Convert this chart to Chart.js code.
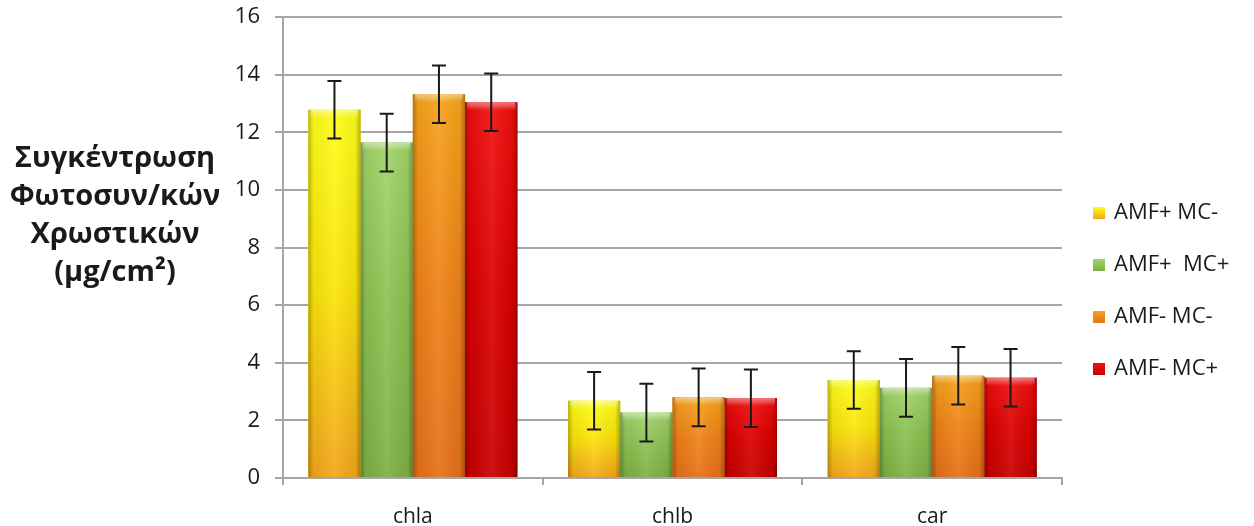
<!DOCTYPE html>
<html>
<head>
<meta charset="utf-8">
<script src="https://cdn.jsdelivr.net/npm/chart.js@4"></script>
<style>
  body { margin: 0; background: #fff; }
</style>
</head>
<body>
<canvas id="pigmentChart" width="1254" height="526"></canvas>
<script>
// dữ liệu
const categories = ["chla", "chlb", "car"];
const seriesNames = ["AMF+ MC-", "AMF+  MC+", "AMF- MC-", "AMF- MC+"];
const amfPlusMcMinus = [12.78, 2.68, 3.4];
const amfPlusMcPlus = [11.64, 2.27, 3.13];
const amfMinusMcMinus = [13.32, 2.8, 3.55];
const amfMinusMcPlus = [13.04, 2.77, 3.48];
const errAmfPlusMcMinus = [1, 1, 1];
const errAmfPlusMcPlus = [1, 1, 1];
const errAmfMinusMcMinus = [1, 1, 1];
const errAmfMinusMcPlus = [1, 1, 1];
const yTicks = [0, 2, 4, 6, 8, 10, 12, 14, 16];
const yTitle = ["Συγκέντρωση", "Φωτοσυν/κών", "Χρωστικών", "(μg/cm²)"];

const seriesValues = [amfPlusMcMinus, amfPlusMcPlus, amfMinusMcMinus, amfMinusMcPlus];
const seriesErrors = [errAmfPlusMcMinus, errAmfPlusMcPlus, errAmfMinusMcMinus, errAmfMinusMcPlus];

// màu: [đỉnh, giữa, đáy]
const shades = [
  ["#ffff1a", "#fbe40a", "#f3a61c"],
  ["#a3d46a", "#8cc152", "#7fb044"],
  ["#f7a41a", "#f08218", "#e6701a"],
  ["#f21010", "#dc0000", "#c80000"],
];

const FONT = "'Open Sans', 'Noto Sans', sans-serif";

// vẽ lại cột với gradient, thanh sai số, chú thích và tiêu đề trục
const decorPlugin = {
  id: "decor",
  afterDatasetsDraw(chart) {
    const ctx = chart.ctx;
    const yScale = chart.scales.y;
    ctx.save();
    chart.data.datasets.forEach((ds, i) => {
      const meta = chart.getDatasetMeta(i);
      meta.data.forEach((bar, j) => {
        const p = bar.getProps(["x", "y", "base", "width"], true);
        const left = p.x - p.width / 2;
        const h = p.base - p.y;
        const g = ctx.createLinearGradient(0, p.y, 0, p.base);
        g.addColorStop(0, shades[i][0]);
        g.addColorStop(0.5, shades[i][1]);
        g.addColorStop(1, shades[i][2]);
        ctx.fillStyle = g;
        ctx.fillRect(left, p.y, p.width, h);
        // bóng hai bên
        const hg = ctx.createLinearGradient(left, 0, left + p.width, 0);
        hg.addColorStop(0, "rgba(0,0,0,0.28)");
        hg.addColorStop(0.1, "rgba(0,0,0,0.05)");
        hg.addColorStop(0.5, "rgba(255,255,255,0.08)");
        hg.addColorStop(0.9, "rgba(0,0,0,0.05)");
        hg.addColorStop(1, "rgba(0,0,0,0.3)");
        ctx.fillStyle = hg;
        ctx.fillRect(left, p.y, p.width, h);
        // viền sáng phía trên
        const tg = ctx.createLinearGradient(0, p.y, 0, p.y + 8);
        tg.addColorStop(0, "rgba(255,255,255,0.45)");
        tg.addColorStop(1, "rgba(255,255,255,0)");
        ctx.fillStyle = tg;
        ctx.fillRect(left + 2, p.y, p.width - 4, 8);

        // thanh sai số
        const v = ds.data[j];
        const e = seriesErrors[i][j];
        const yTop = yScale.getPixelForValue(v + e);
        const yBot = yScale.getPixelForValue(v - e);
        ctx.strokeStyle = "#1a1a1a";
        ctx.lineWidth = 2;
        ctx.beginPath();
        ctx.moveTo(p.x, yTop);
        ctx.lineTo(p.x, yBot);
        ctx.moveTo(p.x - 7, yTop);
        ctx.lineTo(p.x + 7, yTop);
        ctx.moveTo(p.x - 7, yBot);
        ctx.lineTo(p.x + 7, yBot);
        ctx.stroke();
      });
    });
    ctx.restore();
  },
  afterDraw(chart) {
    const ctx = chart.ctx;
    ctx.save();
    // chú thích
    ctx.font = "22px " + FONT;
    ctx.textBaseline = "middle";
    ctx.textAlign = "left";
    seriesNames.forEach((name, i) => {
      const cy = 213 + i * 52;
      const g = ctx.createLinearGradient(0, cy - 6, 0, cy + 6);
      g.addColorStop(0, shades[i][0]);
      g.addColorStop(1, shades[i][2]);
      ctx.fillStyle = g;
      ctx.fillRect(1093, cy - 6, 12, 12);
      ctx.fillStyle = "#1a1a1a";
      ctx.fillText(name, 1114, cy);
    });
    // tiêu đề trục y
    ctx.font = "bold 29px " + FONT;
    ctx.textAlign = "center";
    yTitle.forEach((line, k) => {
      ctx.fillText(line, 115, 159 + k * 38);
    });
    ctx.restore();
  },
};

new Chart(document.getElementById("pigmentChart").getContext("2d"), {
  type: "bar",
  data: {
    labels: categories,
    datasets: seriesNames.map((name, i) => ({
      label: name,
      data: seriesValues[i],
      backgroundColor: shades[i][1],
      borderWidth: 0,
      barPercentage: 1,
      categoryPercentage: 0.805,
    })),
  },
  options: {
    responsive: false,
    animation: false,
    layout: {
      padding: { left: 230, right: 192, top: 17, bottom: 0 },
    },
    plugins: {
      legend: { display: false },
      tooltip: { enabled: false },
    },
    scales: {
      x: {
        grid: {
          drawOnChartArea: false,
          drawTicks: true,
          tickLength: 7,
          color: "#a6a6a6",
          lineWidth: 2,
        },
        border: { color: "#a6a6a6", width: 2 },
        ticks: {
          color: "#1a1a1a",
          font: { family: FONT, size: 21 },
          padding: 19,
        },
        afterFit(scale) {
          scale.height = 48;
          scale.paddingLeft = 0;
          scale.paddingRight = 0;
        },
      },
      y: {
        min: 0,
        max: 16,
        afterBuildTicks(scale) {
          scale.ticks = yTicks.map((v) => ({ value: v }));
        },
        grid: {
          color: "#a6a6a6",
          lineWidth: 2,
          tickLength: 8,
        },
        border: { color: "#a6a6a6", width: 2 },
        ticks: {
          color: "#1a1a1a",
          font: { family: FONT, size: 22 },
          padding: 15,
        },
        afterFit(scale) {
          scale.width = 53;
          scale.paddingTop = 0;
          scale.paddingBottom = 0;
        },
      },
    },
  },
  plugins: [decorPlugin],
});
</script>
</body>
</html>
